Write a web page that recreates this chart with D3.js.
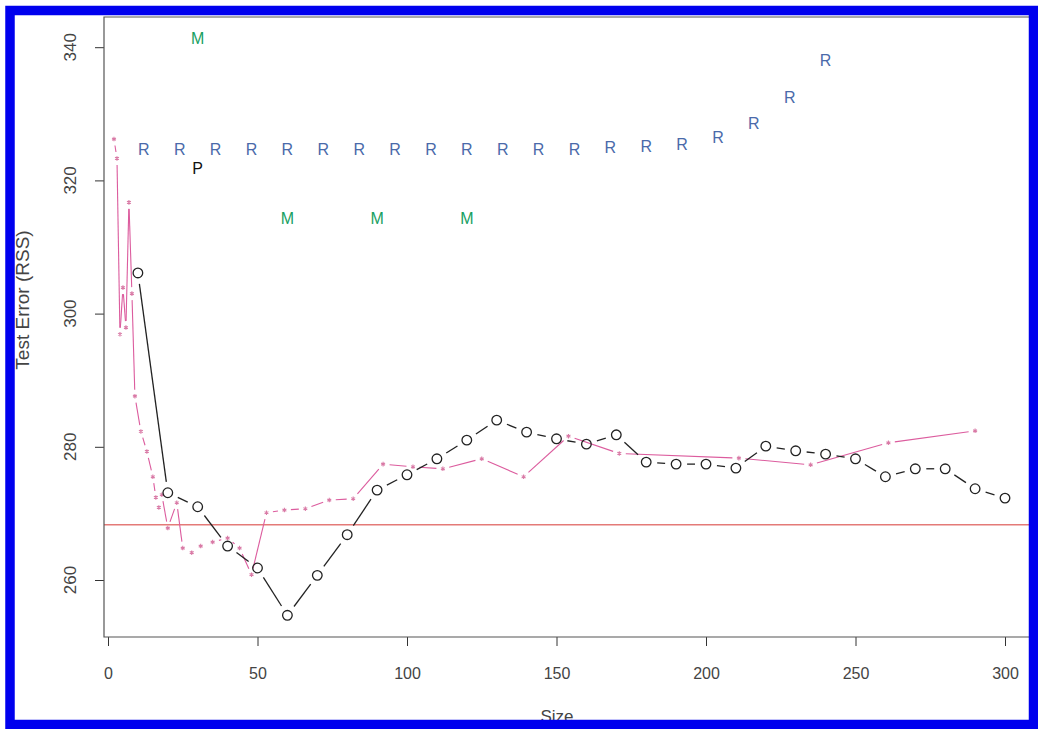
<!DOCTYPE html>
<html>
<head>
    <title>Test Error vs Size</title>
    <meta charset="utf-8">
    <script src="https://d3js.org/d3.v7.min.js"></script>
    <style>
        body { margin: 0; background: #fff; }
        text { font-family: "Liberation Sans", Arial, sans-serif; }
    </style>
</head>
<body>
<div class="chart-area"></div>
<script type="text/javascript">
    // black "o" series
    var circleSize = [10, 20, 30, 40, 50, 60, 70, 80, 90, 100, 110, 120, 130, 140, 150,
                      160, 170, 180, 190, 200, 210, 220, 230, 240, 250, 260, 270, 280, 290, 300];
    var circleErr = [306.1, 273.1, 271.0, 265.1, 261.8, 254.7, 260.7, 266.8, 273.5, 275.8,
                     278.2, 281.0, 284.0, 282.2, 281.2, 280.4, 281.8, 277.7, 277.4, 277.4,
                     276.8, 280.1, 279.4, 278.9, 278.2, 275.5, 276.7, 276.7, 273.7, 272.3];

    // pink "*" series
    var starSize = [2, 3, 4, 5, 6, 7, 8, 9, 11, 13, 15, 16, 17, 18, 20, 23, 25, 28, 31, 35,
                    40, 44, 48, 53, 59, 66, 74, 82, 92, 102, 112, 125, 139, 154, 171, 211,
                    235, 261, 290];
    var starErr = [326.2, 323.3, 296.9, 303.9, 297.9, 316.7, 303.0, 287.6, 282.3, 279.3,
                   275.5, 272.4, 270.9, 272.8, 267.8, 271.6, 264.8, 264.1, 265.1, 265.7,
                   266.3, 264.8, 260.8, 270.1, 270.5, 270.7, 272.0, 272.2, 277.4, 277.0,
                   276.7, 278.2, 275.5, 281.6, 279.0, 278.3, 277.3, 280.6, 282.4];

    // "R" labels
    var rSize = [12, 24, 36, 48, 60, 72, 84, 96, 108, 120, 132, 144, 156, 168, 180, 192, 204, 216, 228, 240];
    var rErr = [324.7, 324.7, 324.7, 324.7, 324.7, 324.7, 324.7, 324.7, 324.7, 324.7,
                324.7, 324.7, 324.7, 325.0, 325.1, 325.4, 326.5, 328.6, 332.5, 338.0];

    // "M" labels
    var mSize = [30, 60, 90, 120];
    var mErr = [341.3, 314.3, 314.3, 314.3];

    // "P" label
    var pSize = [30];
    var pErr = [321.8];

    var refErr = 268.3;

    var xTicks = [0, 50, 100, 150, 200, 250, 300];
    var yTicks = [260, 280, 300, 320, 340];

    var W = 1038, H = 729;
    var box = { left: 104, top: 17, right: 1040, bottom: 637 };

    var svg = d3.select(".chart-area")
        .append("svg")
        .attr("width", W)
        .attr("height", H);

    var xScale = d3.scaleLinear().domain([0, 300]).range([108, 1005]);
    var yScale = d3.scaleLinear().domain([260, 340]).range([580, 47.2]);

    var circles = circleSize.map(function(s, i){ return {x: s, y: circleErr[i]}; });
    var stars = starSize.map(function(s, i){ return {x: s, y: starErr[i]}; });

    // R style type="b": segments with a gap around each point
    function gapSegments(pts, gap) {
        var segs = [];
        for (var i = 0; i < pts.length - 1; i++) {
            var x1 = xScale(pts[i].x), y1 = yScale(pts[i].y);
            var x2 = xScale(pts[i+1].x), y2 = yScale(pts[i+1].y);
            var dx = x2 - x1, dy = y2 - y1;
            var len = Math.sqrt(dx*dx + dy*dy);
            if (len <= 2*gap) continue;
            var ux = dx/len, uy = dy/len;
            segs.push({x1: x1 + ux*gap, y1: y1 + uy*gap, x2: x2 - ux*gap, y2: y2 - uy*gap});
        }
        return segs;
    }

    var plot = svg.append("g");

    // reference line
    plot.append("line")
        .attr("x1", box.left)
        .attr("x2", W)
        .attr("y1", yScale(refErr))
        .attr("y2", yScale(refErr))
        .attr("stroke", "#e47a78")
        .attr("stroke-width", 1.4);

    // pink series
    plot.append("g").selectAll("line")
        .data(gapSegments(stars, 6.5))
        .enter()
        .append("line")
        .attr("x1", function(d){ return d.x1; })
        .attr("y1", function(d){ return d.y1; })
        .attr("x2", function(d){ return d.x2; })
        .attr("y2", function(d){ return d.y2; })
        .attr("stroke", "#dc5c9e")
        .attr("stroke-width", 1.1);

    plot.append("g").selectAll("path")
        .data(stars)
        .enter()
        .append("path")
        .attr("d", d3.symbol().type(d3.symbolAsterisk).size(14))
        .attr("transform", function(d){ return "translate(" + xScale(d.x) + "," + yScale(d.y) + ")"; })
        .attr("fill", "none")
        .attr("stroke", "#d97aa6")
        .attr("stroke-width", 1.1);

    // black series
    plot.append("g").selectAll("line")
        .data(gapSegments(circles, 11))
        .enter()
        .append("line")
        .attr("x1", function(d){ return d.x1; })
        .attr("y1", function(d){ return d.y1; })
        .attr("x2", function(d){ return d.x2; })
        .attr("y2", function(d){ return d.y2; })
        .attr("stroke", "#222")
        .attr("stroke-width", 1.3);

    plot.append("g").selectAll("circle")
        .data(circles)
        .enter()
        .append("circle")
        .attr("cx", function(d){ return xScale(d.x); })
        .attr("cy", function(d){ return yScale(d.y); })
        .attr("r", 4.8)
        .attr("fill", "none")
        .attr("stroke", "#222")
        .attr("stroke-width", 1.3);

    // letters
    function letters(xs, ys, ch, col) {
        plot.append("g").selectAll("text")
            .data(xs)
            .enter()
            .append("text")
            .attr("x", function(d){ return xScale(d); })
            .attr("y", function(d, i){ return yScale(ys[i]); })
            .attr("dy", "0.36em")
            .attr("text-anchor", "middle")
            .attr("font-size", "16px")
            .attr("fill", col)
            .text(ch);
    }
    letters(rSize, rErr, "R", "#4a6aaa");
    letters(mSize, mErr, "M", "#17a062");
    letters(pSize, pErr, "P", "#111");

    // axes
    var yAxis = d3.axisLeft(yScale).tickValues(yTicks).tickSize(9).tickPadding(0).tickFormat(function(d){ return ""; });
    var yg = svg.append("g")
        .attr("transform", "translate(" + box.left + ",0)")
        .call(yAxis);
    yg.select(".domain").remove();
    yg.selectAll("line").attr("stroke", "#333");

    svg.append("g").selectAll("text")
        .data(yTicks)
        .enter()
        .append("text")
        .attr("transform", function(d){ return "translate(76," + yScale(d) + ") rotate(-90)"; })
        .attr("text-anchor", "middle")
        .attr("font-size", "17px")
        .attr("fill", "#444")
        .text(function(d){ return d; });

    var xAxis = d3.axisBottom(xScale).tickValues(xTicks).tickSize(9).tickPadding(22);
    var xg = svg.append("g")
        .attr("transform", "translate(0," + box.bottom + ")")
        .call(xAxis);
    xg.select(".domain").remove();
    xg.selectAll("line").attr("stroke", "#333");
    xg.selectAll("text")
        .attr("font-size", "16px")
        .attr("fill", "#444")
        .attr("font-family", "Liberation Sans, Arial, sans-serif");

    // box
    svg.append("path")
        .attr("d", "M" + W + "," + box.top + "H" + box.left + "V" + box.bottom + "H" + W)
        .attr("fill", "none")
        .attr("stroke", "#555")
        .attr("stroke-width", 1.2);

    // axis titles
    svg.append("text")
        .attr("x", 557)
        .attr("y", 722)
        .attr("text-anchor", "middle")
        .attr("font-size", "17px")
        .attr("fill", "#444")
        .text("Size");

    svg.append("text")
        .attr("transform", "translate(29,300) rotate(-90)")
        .attr("text-anchor", "middle")
        .attr("font-size", "19px")
        .attr("fill", "#444")
        .text("Test Error (RSS)");

    // blue frame
    svg.append("rect")
        .attr("x", 10)
        .attr("y", 10.5)
        .attr("width", W - 14.5)
        .attr("height", H - 15)
        .attr("fill", "none")
        .attr("stroke", "#0000ee")
        .attr("stroke-width", 9.5);
</script>
</body>
</html>
